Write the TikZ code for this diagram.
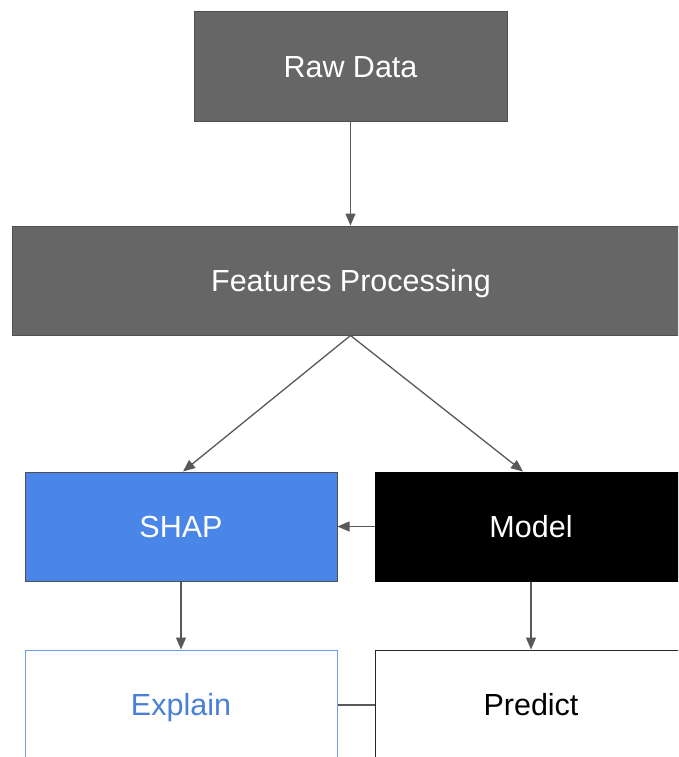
\documentclass[tikz,border=0pt]{standalone}
\usepackage{fontspec}
\setmainfont{Liberation Sans}
\usetikzlibrary{arrows.meta}
\definecolor{boxgrey}{HTML}{666666}
\definecolor{edgegrey}{HTML}{505050}
\definecolor{arrowgrey}{HTML}{595959}
\definecolor{shapblue}{HTML}{4A86E8}
\definecolor{lightblue}{HTML}{6D9EEB}
\definecolor{textblue}{HTML}{4A7FD8}
\tikzset{
  box/.style={rectangle, draw, line width=1pt, inner sep=0pt, font=\fontsize{30.5}{36}\selectfont, text height=21.5pt, text depth=0pt},
  greybox/.style={box, fill=boxgrey, draw=edgegrey, text=white},
  conn/.style={draw=arrowgrey, line width=1.3pt, -{Triangle[length=12pt,width=10pt]}},
  plainconn/.style={draw=arrowgrey, line width=1.3pt}
}
\begin{document}
\begin{tikzpicture}[x=1pt,y=1pt]
\useasboundingbox (0,0) rectangle (678,-757);
\clip (0,0) rectangle (678,-757);
\fill[white] (0,0) rectangle (678,-757);
\node[greybox, minimum width=313pt, minimum height=110pt] (RD) at (350.5,-67) {Raw Data};
\node[greybox, minimum width=678pt, minimum height=109pt] (F) at (351,-280.5) {Features Processing};
\node[box, fill=shapblue, draw=edgegrey, text=white, minimum width=312pt, minimum height=109pt] (S) at (181,-526.5) {SHAP};
\node[box, fill=black, draw=black, text=white, minimum width=312pt, minimum height=109pt] (M) at (531,-526.5) {Model};
\node[box, fill=white, draw=lightblue, text=textblue, minimum width=312pt, minimum height=110pt] (E) at (181,-705) {Explain};
\node[box, fill=white, draw=black!85, text=black, minimum width=312pt, minimum height=110pt] (P) at (531,-705) {Predict};
\coordinate (fb) at (RD.south |- F.south);
\draw[conn] (RD.south) -- (RD.south |- F.north);
\draw[conn] (fb) -- ([xshift=2pt]S.north);
\draw[conn] (fb) -- ([xshift=-8pt]M.north);
\draw[conn] (M.west) -- (S.east);
\draw[conn] (S.south) -- (E.north);
\draw[conn] (M.south) -- (P.north);
\draw[plainconn] (E.east) -- (P.west);
\end{tikzpicture}
\end{document}
